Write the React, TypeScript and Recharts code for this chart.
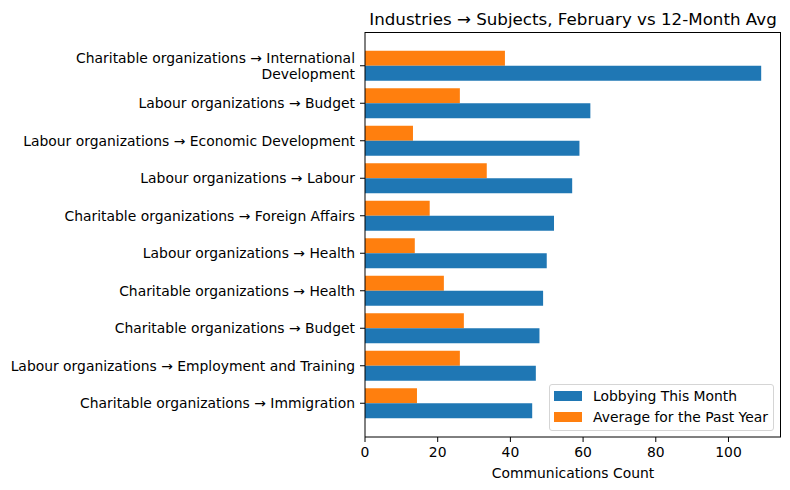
import { Bar, BarChart, XAxis, YAxis } from "recharts";

const categories = [
  "Charitable organizations → International\nDevelopment",
  "Labour organizations → Budget",
  "Labour organizations → Economic Development",
  "Labour organizations → Labour",
  "Charitable organizations → Foreign Affairs",
  "Labour organizations → Health",
  "Charitable organizations → Health",
  "Charitable organizations → Budget",
  "Labour organizations → Employment and Training",
  "Charitable organizations → Immigration",
];
const thisMonth = [109, 62, 59, 57, 52, 50, 49, 48, 47, 46];
const pastYearAvg = [38.5, 26.1, 13.2, 33.5, 17.8, 13.7, 21.7, 27.2, 26.1, 14.3];
const xTicks = [0, 20, 40, 60, 80, 100];
const seriesNames = ["Lobbying This Month", "Average for the Past Year"];

const BLUE = "#1f77b4";
const ORANGE = "#ff7f0e";
const FONT = "'DejaVu Sans', sans-serif";
const xMax = Math.max(...thisMonth) * 1.05;

const data = categories.map((name, i) => ({
  name,
  month: thisMonth[i],
  avg: pastYearAvg[i],
}));

function YTick({ x, y, payload }: any) {
  const lines = String(payload.value).split("\n");
  const lh = 16.5;
  const first = 5 - ((lines.length - 1) * lh) / 2;
  return (
    <text x={x} y={y} textAnchor="end" fontSize={13.9} fontFamily={FONT} fill="#000">
      {lines.map((l, i) => (
        <tspan key={i} x={x} y={y + first + i * lh}>
          {l}
        </tspan>
      ))}
    </text>
  );
}

function XTick({ x, y, payload }: any) {
  return (
    <text x={x} y={y + 14.7} textAnchor="middle" fontSize={13.9} fontFamily={FONT} fill="#000">
      {payload.value}
    </text>
  );
}

export default function App() {
  const legendColors = [BLUE, ORANGE];
  return (
    <div style={{ position: "absolute", left: 0, top: 0, width: 790, height: 490, background: "#fff", fontFamily: FONT }}>
      <div
        style={{
          position: "absolute",
          left: 365,
          width: 416,
          top: 9,
          textAlign: "center",
          fontSize: 16.7,
          lineHeight: "20px",
          color: "#000",
          whiteSpace: "nowrap",
        }}
      >
        Industries → Subjects, February vs 12-Month Avg
      </div>
      <BarChart
        width={790}
        height={490}
        data={data}
        layout="vertical"
        margin={{ top: 32, right: 9, left: 0, bottom: 0 }}
        barGap={0}
        barCategoryGap={3.75}
      >
        <XAxis
          type="number"
          domain={[0, xMax]}
          ticks={xTicks}
          height={53}
          tickSize={5}
          tickMargin={0}
          tick={<XTick />}
          axisLine={{ stroke: "#000" }}
          tickLine={{ stroke: "#000" }}
          label={{ value: "Communications Count", position: "insideBottom", offset: 12, fontSize: 13.9, fontFamily: FONT, fill: "#000" }}
        />
        <YAxis
          type="category"
          dataKey="name"
          width={365}
          tickSize={5}
          tickMargin={5}
          padding={{ top: 15, bottom: 15 }}
          tick={<YTick />}
          axisLine={{ stroke: "#000" }}
          tickLine={{ stroke: "#000" }}
          interval={0}
        />
        <Bar dataKey="avg" name={seriesNames[1]} fill={ORANGE} isAnimationActive={false} />
        <Bar dataKey="month" name={seriesNames[0]} fill={BLUE} isAnimationActive={false} />
      </BarChart>
      {/* top and right edges of the plot frame */}
      <div
        style={{
          position: "absolute",
          left: 365,
          top: 32,
          width: 416,
          height: 405,
          boxSizing: "border-box",
          borderTop: "1px solid #000",
          borderRight: "1px solid #000",
          pointerEvents: "none",
        }}
      />
      <div
        style={{
          position: "absolute",
          left: 549,
          top: 384,
          width: 223,
          height: 45,
          border: "1px solid #d5d5d5",
          borderRadius: 3,
          background: "rgba(255,255,255,0.8)",
        }}
      >
        {seriesNames.map((n, i) => (
          <div key={n} style={{ position: "absolute", left: 4, top: 6 + i * 21, height: 10, display: "flex", alignItems: "center" }}>
            <div style={{ width: 28, height: 10, background: legendColors[i] }} />
            <span style={{ marginLeft: 11, fontSize: 13.9, color: "#000", whiteSpace: "nowrap" }}>{n}</span>
          </div>
        ))}
      </div>
    </div>
  );
}
